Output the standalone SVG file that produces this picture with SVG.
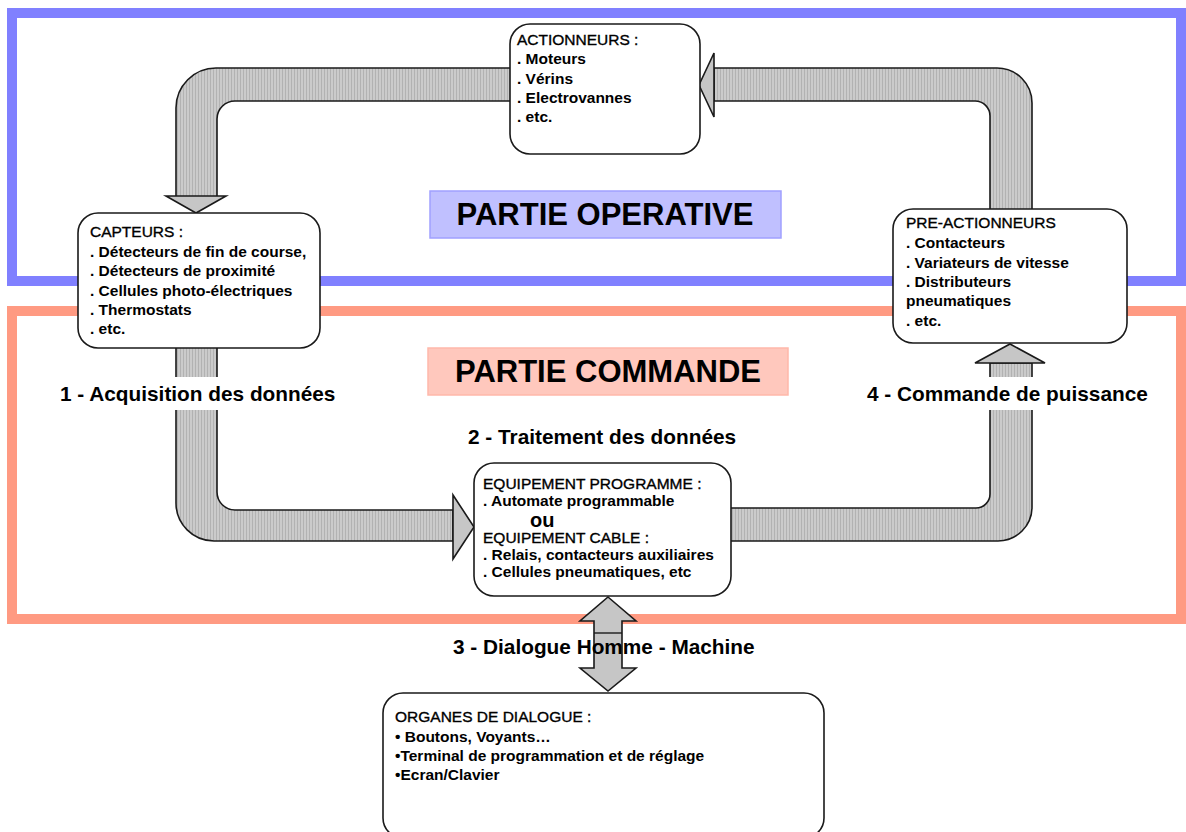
<svg xmlns="http://www.w3.org/2000/svg" width="1186" height="832" viewBox="0 0 1186 832">
<defs>
<pattern id="hatch" width="3" height="10" patternUnits="userSpaceOnUse">
<rect width="3" height="10" fill="#cbcbcb"/>
<rect width="1" height="10" fill="#b2b2b2"/>
</pattern>
<style>
.frame{fill:none;stroke-width:10}
.band{fill:url(#hatch);stroke:#1a1a1a;stroke-width:1.6;stroke-linejoin:round}
.head{fill:#c6c6c6;stroke:#1a1a1a;stroke-width:1.6;stroke-linejoin:miter}
.box{fill:#fff;stroke:#1a1a1a;stroke-width:1.6}
text{font-family:"Liberation Sans",Arial,sans-serif;fill:#000}
.t{font-size:15.5px;stroke:#000;stroke-width:0.35}
.b{font-size:15.5px;font-weight:bold}
.lbl{font-size:20.8px;font-weight:bold}
.big{font-size:31px;font-weight:bold;text-anchor:middle}
</style>
</defs>
<rect width="1186" height="832" fill="#fff"/>
<g id="frames">
<rect class="frame" x="12" y="13" width="1169" height="268" stroke="#8080ff"/>
<rect class="frame" x="12" y="311" width="1169" height="308" stroke="#ff9a82"/>
</g>
<g id="connectors">
<path class="band" d="M176,197 L176,108 A40,40 0 0 1 216,68 L520,68 L520,101 L235,101 A18,18 0 0 0 217,119 L217,197 Z"/>
<polygon class="head" points="166,196 226,196 196,213"/>
<path class="band" d="M714,68 L997,68 A35,35 0 0 1 1032,103 L1032,215 L990,215 L990,116 A15,15 0 0 0 975,101 L714,101 Z"/>
<polygon class="head" points="714,53 699,85 714,117"/>
<path class="band" d="M176,340 L176,503 A38,38 0 0 0 214,541 L453,541 L453,510 L235,510 A18,18 0 0 1 217,492 L217,340 Z"/>
<polygon class="head" points="453,495 474,527 453,559"/>
<path class="band" d="M725,508 L976,508 A14,14 0 0 0 990,494 L990,363 L1032,363 L1032,507 A34,34 0 0 1 998,541 L725,541 Z"/>
<polygon class="head" points="975,363 1010,344 1045,363"/>
<polygon class="head" points="608,597 636,621 622,621 622,668 636,668 608,691 580,668 594,668 594,621 580,621"/>
<line x1="594" y1="633" x2="622" y2="633" stroke="#1a1a1a" stroke-width="1.4"/>
</g>
<g id="label-operative">
<rect x="430" y="191" width="351" height="47" fill="#c0c0ff" stroke="#a0a0ff" stroke-width="1.5"/>
<text class="big" x="605" y="225">PARTIE OPERATIVE</text>
</g>
<g id="label-commande">
<rect x="428" y="348" width="360" height="47" fill="#ffc8bd" stroke="#ffb8aa" stroke-width="1.5"/>
<text class="big" x="608" y="382">PARTIE COMMANDE</text>
</g>
<g id="actionneurs">
<rect class="box" x="510" y="24" width="190" height="130" rx="20"/>
<text class="t" x="517" y="45">ACTIONNEURS :</text>
<text class="b" x="517" y="64">. Moteurs</text>
<text class="b" x="517" y="84">. Vérins</text>
<text class="b" x="517" y="103">. Electrovannes</text>
<text class="b" x="517" y="122">. etc.</text>
</g>
<g id="capteurs">
<rect class="box" x="78" y="213" width="242" height="135" rx="20"/>
<text class="t" x="90" y="237">CAPTEURS :</text>
<text class="b" x="90" y="257">. Détecteurs de fin de course,</text>
<text class="b" x="90" y="276">. Détecteurs de proximité</text>
<text class="b" x="90" y="296">. Cellules photo-électriques</text>
<text class="b" x="90" y="315">. Thermostats</text>
<text class="b" x="90" y="334">. etc.</text>
</g>
<g id="pre-actionneurs">
<rect class="box" x="893" y="209" width="234" height="134" rx="20"/>
<text class="t" x="906" y="228">PRE-ACTIONNEURS</text>
<text class="b" x="906" y="248">. Contacteurs</text>
<text class="b" x="906" y="268">. Variateurs de vitesse</text>
<text class="b" x="906" y="287">. Distributeurs</text>
<text class="b" x="906" y="306">pneumatiques</text>
<text class="b" x="906" y="326">. etc.</text>
</g>
<g id="step1">
<rect x="58" y="377" width="282" height="33" fill="#fff"/>
<text class="lbl" x="60" y="401">1 - Acquisition des données</text>
</g>
<g id="step4">
<rect x="864" y="377" width="290" height="33" fill="#fff"/>
<text class="lbl" x="867" y="401">4 - Commande de puissance</text>
</g>
<g id="step2">
<text class="lbl" x="468" y="444">2 - Traitement des données</text>
</g>
<g id="equipement">
<rect class="box" x="474" y="463" width="257" height="133" rx="20"/>
<text class="t" x="483" y="489">EQUIPEMENT PROGRAMME :</text>
<text class="b" x="483" y="506">. Automate programmable</text>
<text x="530" y="527" font-size="20px" font-weight="bold">ou</text>
<text class="t" x="483" y="543">EQUIPEMENT CABLE :</text>
<text class="b" x="483" y="560">. Relais, contacteurs auxiliaires</text>
<text class="b" x="483" y="577">. Cellules pneumatiques, etc</text>
</g>
<g id="step3">
<text class="lbl" x="453" y="654">3 - Dialogue Homme - Machine</text>
</g>
<g id="organes">
<rect class="box" x="383" y="693" width="441" height="145" rx="20"/>
<text class="t" x="395" y="722">ORGANES DE DIALOGUE :</text>
<text class="b" x="395" y="742">• Boutons, Voyants…</text>
<text class="b" x="395" y="761">•Terminal de programmation et de réglage</text>
<text class="b" x="395" y="780">•Ecran/Clavier</text>
</g>
</svg>
